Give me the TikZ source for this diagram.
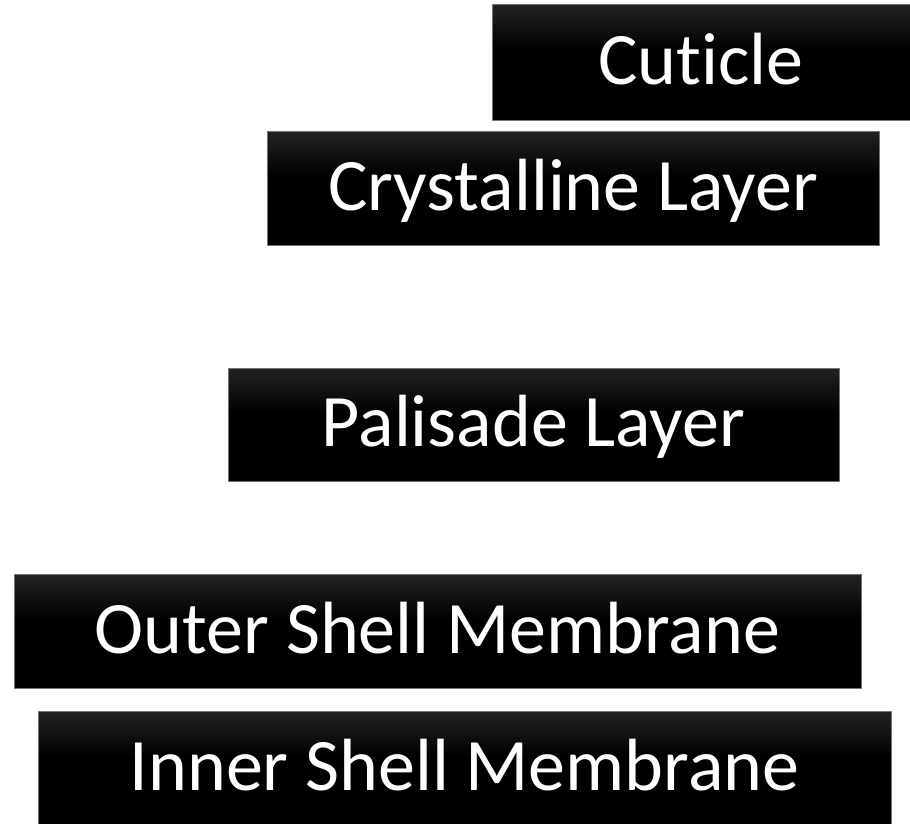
\documentclass[tikz,border=0pt]{standalone}
\usepackage{fontspec}
\setmainfont[Ligatures=NoCommon]{Carlito}
\usepackage{tikz}
\usetikzlibrary{positioning}

\pgfdeclareverticalshading{layershade}{100bp}{color(0bp)=(black); color(55bp)=(black); color(100bp)=(black!70)}

\tikzset{
  layer/.style={rectangle, shading=layershade, draw=black!55, line width=0.6pt,
    text=white, inner sep=0pt, text height=66pt, text depth=22pt,
    font=\fontsize{74}{82}\selectfont}
}

\begin{document}
\begin{tikzpicture}[x=1pt, y=-1pt]
\useasboundingbox (0,0) rectangle (910,823);
% Define nodes
% Top layers
\node[layer, minimum width=418pt, minimum height=116pt] (cuticle) at (701,62) {Cuticle};
\node[layer, minimum width=612pt, minimum height=114pt] (crystal) at (573,188) {Crystalline Layer};
\node[layer, minimum width=611pt, minimum height=113pt] (palisade) at (533.5,424.5) {Palisade Layer};
% Membranes
\node[layer, minimum width=847pt, minimum height=114pt] (outer) at (437.5,631) {Outer Shell Membrane};
\node[layer, minimum width=853pt, minimum height=114pt] (inner) at (464.5,768) {Inner Shell Membrane};
\end{tikzpicture}
\end{document}
